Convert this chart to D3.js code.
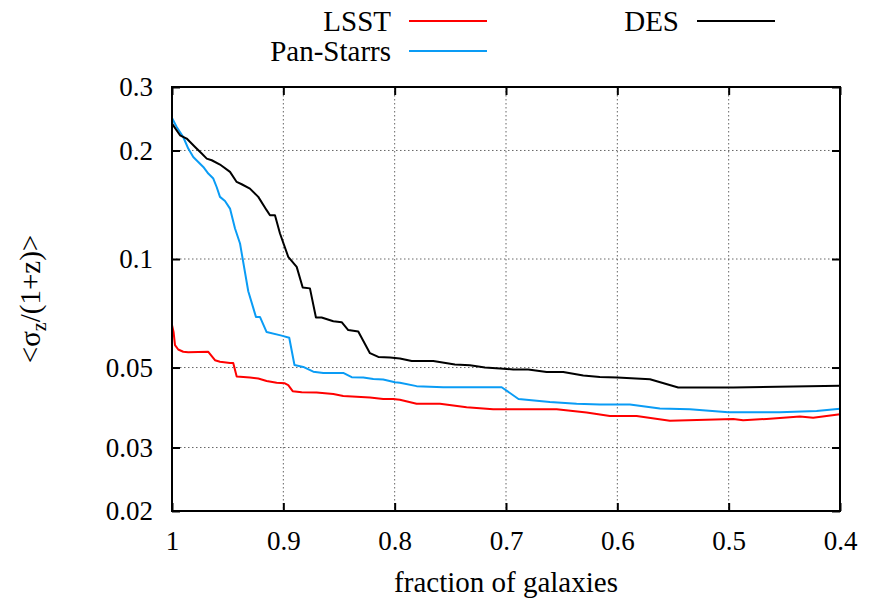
<!DOCTYPE html>
<html>
<head>
<meta charset="utf-8">
<script src="https://cdn.jsdelivr.net/npm/d3@7"></script>
</head>
<body style="margin:0; background:#fff">
<div id="chart"></div>
<script>
const X_TICKS = [1, 0.9, 0.8, 0.7, 0.6, 0.5, 0.4];
const Y_TICKS = [0.02, 0.03, 0.05, 0.1, 0.2, 0.3];

// [fraction of galaxies, <sigma_z/(1+z)>]
const LSST = [
  [1.0, 0.0656], [0.9986, 0.0628], [0.9973, 0.0577], [0.9944, 0.0561], [0.9899, 0.0553],
  [0.9854, 0.0551], [0.9674, 0.0553], [0.9614, 0.0524], [0.9569, 0.0519], [0.9479, 0.0515],
  [0.945, 0.0515], [0.9419, 0.0472], [0.93, 0.0469], [0.9225, 0.0466], [0.915, 0.0459],
  [0.906, 0.0454], [0.8986, 0.0452], [0.8956, 0.0447], [0.8916, 0.043], [0.8835, 0.0427],
  [0.8701, 0.0426], [0.8551, 0.0422], [0.8462, 0.0417], [0.8222, 0.0413], [0.8103, 0.0409],
  [0.8013, 0.0409], [0.7953, 0.0407], [0.7803, 0.0397], [0.7593, 0.0397], [0.7354, 0.0388],
  [0.7115, 0.0383], [0.6545, 0.0383], [0.6276, 0.0375], [0.6067, 0.0367], [0.5827, 0.0367],
  [0.5528, 0.0356], [0.4959, 0.036], [0.487, 0.0357], [0.466, 0.036], [0.436, 0.0366],
  [0.4241, 0.0363], [0.4, 0.0371]
];

const PAN_STARRS = [
  [1.0, 0.246], [0.9958, 0.2324], [0.9899, 0.218], [0.9854, 0.2025], [0.9809, 0.1919],
  [0.9764, 0.1859], [0.9719, 0.18], [0.9674, 0.1726], [0.9629, 0.1672], [0.9599, 0.1584],
  [0.9569, 0.1487], [0.9524, 0.1449], [0.9479, 0.138], [0.9434, 0.1215], [0.9389, 0.1104],
  [0.9315, 0.0814], [0.9246, 0.0691], [0.921, 0.0691], [0.915, 0.0627], [0.9015, 0.0613],
  [0.8947, 0.0605], [0.89, 0.0508], [0.8821, 0.0502], [0.8731, 0.0487], [0.8641, 0.0483],
  [0.8462, 0.0483], [0.8386, 0.047], [0.8282, 0.0469], [0.8192, 0.0465], [0.8103, 0.0463],
  [0.7997, 0.0455], [0.7953, 0.0454], [0.7803, 0.0444], [0.7564, 0.0441], [0.7039, 0.0441],
  [0.6888, 0.0409], [0.6606, 0.0401], [0.6366, 0.0397], [0.6157, 0.0395], [0.5887, 0.0395],
  [0.5618, 0.0385], [0.5348, 0.0383], [0.5004, 0.0376], [0.454, 0.0376], [0.421, 0.0379],
  [0.4, 0.0384]
];

const DES = [
  [1.0, 0.2375], [0.9928, 0.2204], [0.9868, 0.2158], [0.9793, 0.2045], [0.9733, 0.1961],
  [0.9688, 0.1899], [0.9643, 0.1879], [0.9569, 0.1828], [0.9479, 0.1744], [0.9419, 0.1636],
  [0.9374, 0.1612], [0.93, 0.1568], [0.9225, 0.1487], [0.915, 0.1366], [0.912, 0.1323],
  [0.9075, 0.1323], [0.903, 0.1177], [0.8956, 0.1014], [0.888, 0.0951], [0.8826, 0.0834],
  [0.8761, 0.0829], [0.8707, 0.0688], [0.8656, 0.0688], [0.8551, 0.0672], [0.8476, 0.0668],
  [0.8417, 0.0635], [0.8327, 0.0629], [0.8222, 0.0548], [0.8147, 0.0535], [0.8042, 0.0533],
  [0.7953, 0.053], [0.7847, 0.0521], [0.7653, 0.0521], [0.7459, 0.051], [0.7324, 0.0507],
  [0.7189, 0.05], [0.7055, 0.0497], [0.6935, 0.0494], [0.68, 0.0494], [0.6635, 0.0486],
  [0.6486, 0.0486], [0.6306, 0.0475], [0.6157, 0.0471], [0.6, 0.0469], [0.5707, 0.0464],
  [0.5453, 0.044], [0.4959, 0.044], [0.4, 0.0445]
];

const SERIES_NAMES = ['LSST', 'Pan-Starrs', 'DES'];
const SERIES_DATA = [LSST, PAN_STARRS, DES];
const COLORS = { 'LSST': '#ff0000', 'Pan-Starrs': '#0a9cf5', 'DES': '#000000' };

const FONT = 'Liberation Serif';
const WIDTH = 886, HEIGHT = 605;
const PLOT = { left: 172, right: 840, top: 87, bottom: 511 };

const svg = d3.select('#chart')
  .append('svg')
    .attr('width', WIDTH)
    .attr('height', HEIGHT)
    .attr('font-family', FONT);

const x = d3.scaleLinear()
  .domain([1, 0.4])
  .range([PLOT.left, PLOT.right]);

const y = d3.scaleLog()
  .domain([0.02, 0.3])
  .range([PLOT.bottom, PLOT.top]);

// grid
const grid = svg.append('g')
  .attr('stroke', '#666')
  .attr('stroke-width', 1)
  .attr('stroke-dasharray', '1.5,2.5');

grid.selectAll('.gx')
  .data(X_TICKS.slice(1, -1))
  .enter().append('line')
    .attr('x1', d => x(d)).attr('x2', d => x(d))
    .attr('y1', PLOT.top).attr('y2', PLOT.bottom);

grid.selectAll('.gy')
  .data(Y_TICKS.slice(1, -1))
  .enter().append('line')
    .attr('x1', PLOT.left).attr('x2', PLOT.right)
    .attr('y1', d => y(d)).attr('y2', d => y(d));

// axes (ticks inward on all four sides)
const xAxisBottom = d3.axisBottom(x).tickValues(X_TICKS).tickSize(-8).tickFormat(d3.format('~g')).tickPadding(20);
const xAxisTop = d3.axisTop(x).tickValues(X_TICKS).tickSize(-8).tickFormat('');
const yAxisLeft = d3.axisLeft(y).tickValues(Y_TICKS).tickSize(-8).tickFormat(d3.format('~g')).tickPadding(19);
const yAxisRight = d3.axisRight(y).tickValues(Y_TICKS).tickSize(-8).tickFormat('');

const axes = [
  svg.append('g').attr('transform', `translate(0, ${PLOT.bottom})`).call(xAxisBottom),
  svg.append('g').attr('transform', `translate(0, ${PLOT.top})`).call(xAxisTop),
  svg.append('g').attr('transform', `translate(${PLOT.left}, 0)`).call(yAxisLeft),
  svg.append('g').attr('transform', `translate(${PLOT.right}, 0)`).call(yAxisRight)
];
axes.forEach(g => {
  g.attr('font-family', FONT).attr('font-size', 27);
  g.select('.domain').remove();
  g.selectAll('.tick line').attr('stroke', '#000').attr('stroke-width', 2);
  g.selectAll('.tick text')
    .attr('font-family', FONT)
    .attr('font-size', 27)
    .attr('fill', '#000');
});

// series
const line = d3.line()
  .x(d => x(d[0]))
  .y(d => y(d[1]));

svg.append('g')
  .selectAll('path')
  .data(SERIES_NAMES)
  .enter().append('path')
    .attr('d', (d, i) => line(SERIES_DATA[i]))
    .attr('fill', 'none')
    .attr('stroke', d => COLORS[d])
    .attr('stroke-width', 2)
    .attr('stroke-linejoin', 'round');

// frame
svg.append('rect')
  .attr('x', PLOT.left)
  .attr('y', PLOT.top)
  .attr('width', PLOT.right - PLOT.left)
  .attr('height', PLOT.bottom - PLOT.top)
  .attr('fill', 'none')
  .attr('stroke', '#000')
  .attr('stroke-width', 2);

// axis labels
svg.append('text')
  .attr('x', (PLOT.left + PLOT.right) / 2)
  .attr('y', 592)
  .attr('text-anchor', 'middle')
  .attr('font-family', FONT)
  .attr('font-size', 29)
  .text('fraction of galaxies');

const yLabel = svg.append('text')
  .attr('transform', `translate(40, ${(PLOT.top + PLOT.bottom) / 2}) rotate(-90)`)
  .attr('text-anchor', 'middle')
  .attr('font-family', FONT)
  .attr('font-size', 29);
yLabel.append('tspan').text('<σ');
yLabel.append('tspan').attr('dy', 6).attr('font-size', 20).text('z');
yLabel.append('tspan').attr('dy', -6).text('/(1+z)>');

// legend
const LEGEND_POS = [
  { textX: 391, lineX: 409, y: 21 },
  { textX: 391, lineX: 409, y: 51 },
  { textX: 679, lineX: 697, y: 21 }
];
const legend = svg.append('g')
  .selectAll('g')
  .data(SERIES_NAMES)
  .enter().append('g');

legend.append('text')
  .attr('x', (d, i) => LEGEND_POS[i].textX)
  .attr('y', (d, i) => LEGEND_POS[i].y + 10)
  .attr('text-anchor', 'end')
  .attr('font-family', FONT)
  .attr('font-size', 29)
  .text(d => d);

legend.append('line')
  .attr('x1', (d, i) => LEGEND_POS[i].lineX)
  .attr('x2', (d, i) => LEGEND_POS[i].lineX + 78)
  .attr('y1', (d, i) => LEGEND_POS[i].y)
  .attr('y2', (d, i) => LEGEND_POS[i].y)
  .attr('stroke', d => COLORS[d])
  .attr('stroke-width', 2);
</script>
</body>
</html>
